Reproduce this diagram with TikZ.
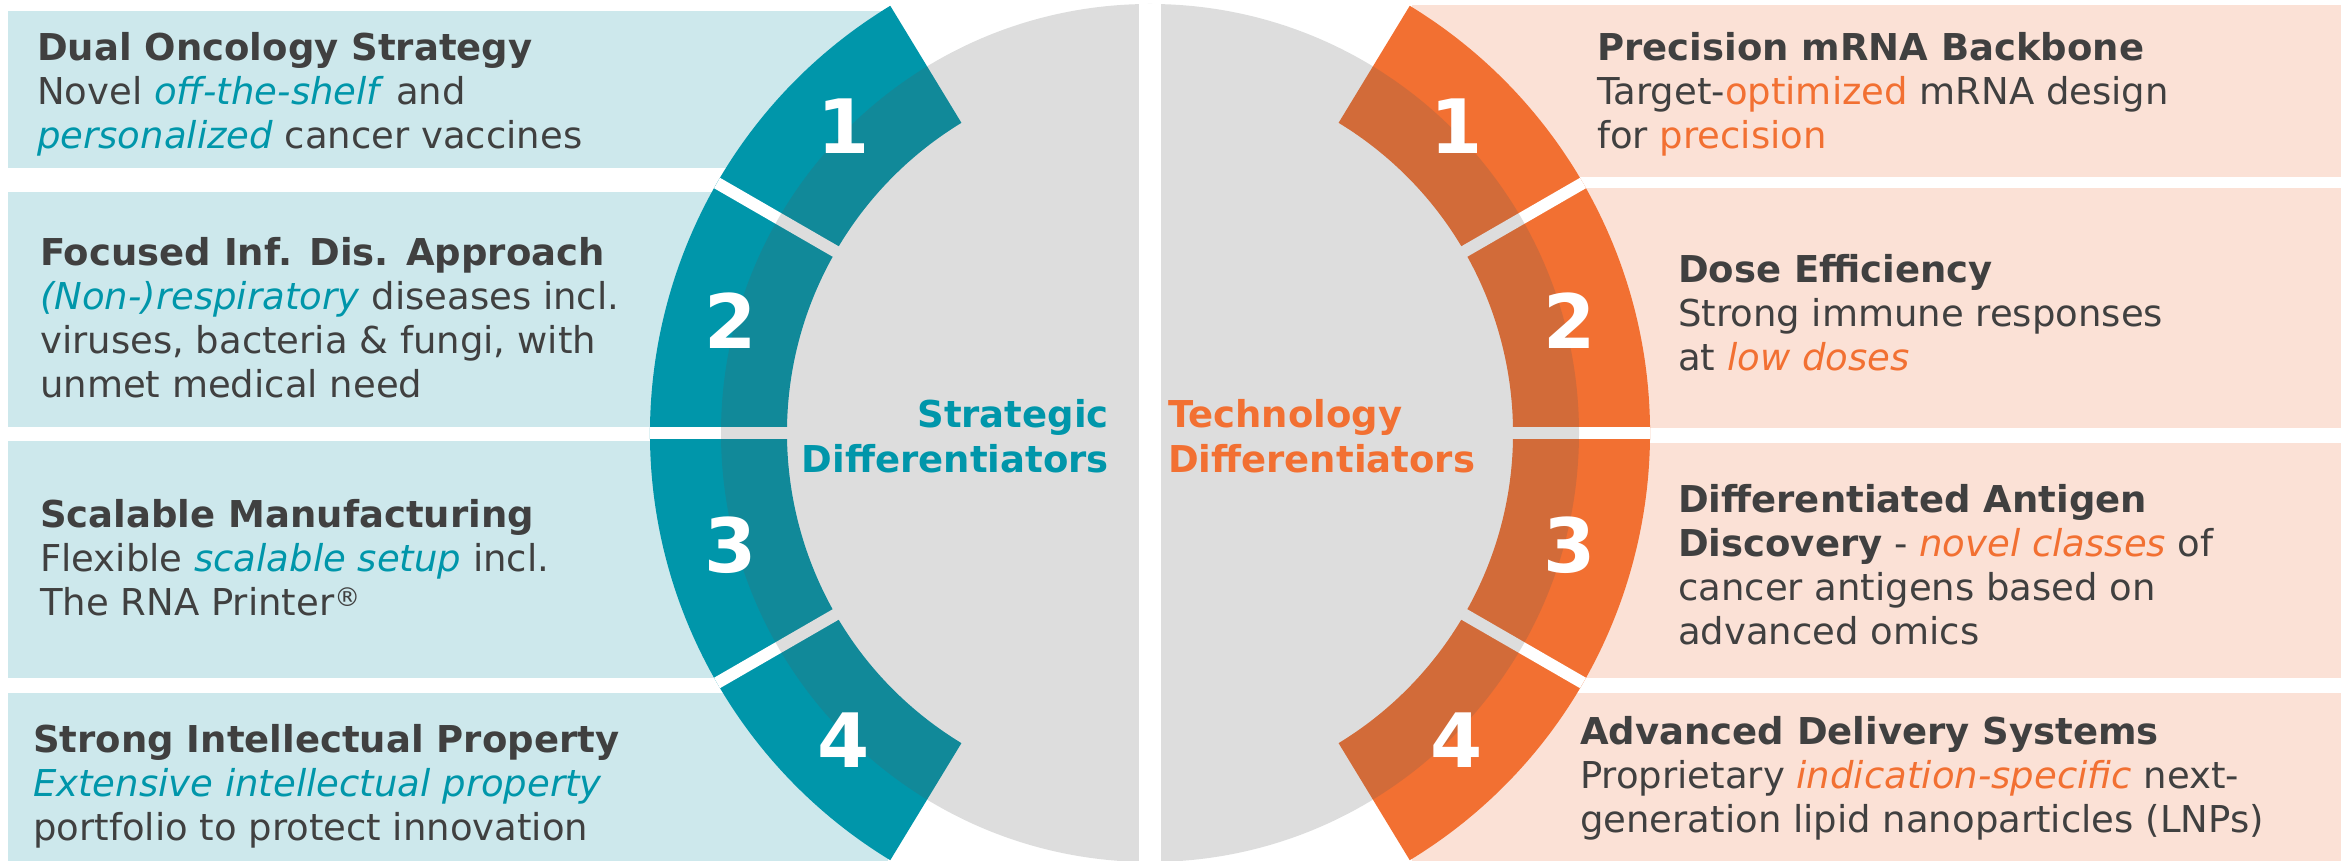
\documentclass[tikz,border=0pt]{standalone}
\usepackage{fontspec}
\setmainfont{DejaVu Sans}
\definecolor{stratring}{RGB}{0,150,170}
\definecolor{stratpanel}{RGB}{205,232,236}
\definecolor{techring}{RGB}{242,112,50}
\definecolor{techpanel}{RGB}{251,225,214}
\definecolor{bodytext}{RGB}{64,64,64}
\definecolor{ringshade}{RGB}{85,87,87}
\tikzset{
  rowtext/.style={anchor=north west,inner sep=0pt,align=left,text=bodytext,font=\fontsize{37}{44}\selectfont},
  ringnum/.style={text=white,inner sep=0pt,font=\fontsize{75}{75}\selectfont\bfseries},
  sidelabel/.style={inner sep=0pt,font=\fontsize{37}{45}\selectfont\bfseries}
}
\newcommand{\st}[1]{\textcolor{stratring}{\textit{#1}}}
\newcommand{\te}[1]{\textcolor{techring}{#1}}
\begin{document}
\begin{tikzpicture}[x=1pt,y=1pt]
\useasboundingbox (0,0) rectangle (2351,861);
\pgfmathsetmacro{\kcx}{1150}
\pgfmathsetmacro{\kcy}{428}
\pgfmathsetmacro{\kri}{363}
\pgfmathsetmacro{\kro}{500}
\pgfmathsetmacro{\krg}{429}
\pgfmathsetmacro{\ka}{58.7}
%panels behind the rings
\fill[stratpanel](8,693)rectangle(888,850);
\fill[stratpanel](8,434)rectangle(760,669);
\fill[stratpanel](8,183)rectangle(760,420);
\fill[stratpanel](8,0)rectangle(888,168);
\fill[techpanel](1412,684)rectangle(2341,856);
\fill[techpanel](1540,433)rectangle(2341,673);
\fill[techpanel](1540,183)rectangle(2341,418);
\fill[techpanel](1412,0)rectangle(2341,168);
\begin{scope}[shift={(\kcx,\kcy)}]
%left and right rings
\fill[stratring](180-\ka:\kro)arc[start angle=180-\ka,end angle=180+\ka,radius=\kro]--(180+\ka:\kri)arc[start angle=180+\ka,end angle=180-\ka,radius=\kri]--cycle;
\fill[techring](-\ka:\kro)arc[start angle=-\ka,end angle=\ka,radius=\kro]--(\ka:\kri)arc[start angle=\ka,end angle=-\ka,radius=\kri]--cycle;
%cuts between segments
\foreach \a in {150,180,210,30,0,-30}
  \draw[white,line width=12](\a:\kri-20)--(\a:\kro);
%grey disc on top, split in two halves
\fill[ringshade,fill opacity=0.2](0,0)circle[radius=\krg];
\fill[white](-11,-\krg)rectangle(11,\krg);
%segment numbers
\node[ringnum](s1) at (135:434){1};
\node[ringnum](s2) at (165:434){2};
\node[ringnum](s3) at (195:434){3};
\node[ringnum](s4) at (225:434){4};
\node[ringnum](t1) at (45:434){1};
\node[ringnum](t2) at (15:434){2};
\node[ringnum](t3) at (-15:434){3};
\node[ringnum](t4) at (-45:434){4};
%half titles
\node[sidelabel,anchor=north east,align=right,text=stratring](strat) at (-41,37.5){\strut Strategic\\Differentiators};
\node[sidelabel,anchor=north west,align=left,text=techring](tech) at (18,37.5){\strut Technology\\Differentiators};
\end{scope}
%strategic rows
\node[rowtext](oncology) at (37,831.8){\strut\textbf{Dual Oncology Strategy}\\Novel \st{off-the-shelf} and\\\st{personalized} cancer vaccines};
\node[rowtext](infdis) at (40,626.8){\strut\textbf{Focused Inf. Dis. Approach}\\\st{(Non-)respiratory} diseases incl.\\viruses, bacteria \& fungi, with\\unmet medical need};
\node[rowtext](manufacturing) at (40,364.8){\strut\textbf{Scalable Manufacturing}\\Flexible \st{scalable setup} incl.\\The RNA Printer\textsuperscript{®}};
\node[rowtext](ip) at (33,139.8){\strut\textbf{Strong Intellectual Property}\\\st{Extensive intellectual property}\\portfolio to protect innovation};
%technology rows
\node[rowtext](backbone) at (1597,831.8){\strut\textbf{Precision mRNA Backbone}\\Target-\te{optimized} mRNA design\\for \te{precision}};
\node[rowtext](dose) at (1678,609.8){\strut\textbf{Dose Efficiency}\\Strong immune responses\\at \te{\textit{low doses}}};
\node[rowtext](antigen) at (1678,379.8){\strut\textbf{Differentiated Antigen}\\\textbf{Discovery} - \te{\textit{novel classes}} of\\cancer antigens based on\\advanced omics};
\node[rowtext](delivery) at (1580,147.8){\strut\textbf{Advanced Delivery Systems}\\Proprietary \te{\textit{indication-specific}} next-\\generation lipid nanoparticles (LNPs)};
\end{tikzpicture}
\end{document}
